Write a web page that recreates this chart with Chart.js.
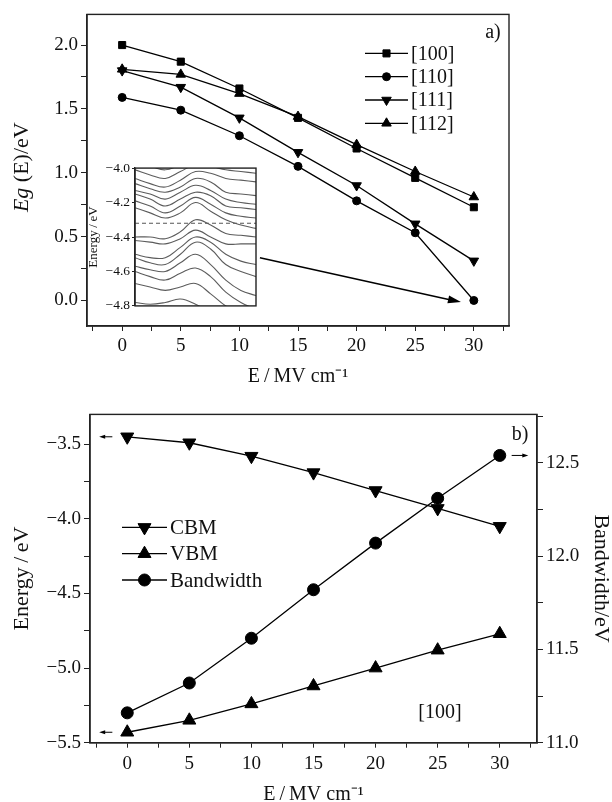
<!DOCTYPE html>
<html>
<head>
<meta charset="utf-8">
<script src="https://cdn.jsdelivr.net/npm/chart.js"></script>
<style>
  html, body { margin: 0; padding: 0; background: #fff; overflow: hidden; }
  #wrap { position: relative; width: 612px; height: 802px; }
  canvas { position: absolute; }
  #gapChart { left: 0; top: 0; }
  #insetChart { left: 84px; top: 158px; }
  #edgeChart { left: 0; top: 400px; }
</style>
</head>
<body>
<div id="wrap">
  <canvas id="gapChart" width="612" height="400"></canvas>
  <canvas id="insetChart" width="176" height="158"></canvas>
  <canvas id="edgeChart" width="612" height="410"></canvas>
</div>
<script>
const SERIF = "'Liberation Serif', 'Times New Roman', serif";

// applied field, MV/cm
const field = [0, 5, 10, 15, 20, 25, 30];

// a) band gap vs field for each direction (eV)
const gap100 = [2.00, 1.87, 1.66, 1.43, 1.19, 0.96, 0.73];
const gap110 = [1.59, 1.49, 1.29, 1.05, 0.78, 0.53, 0.00];
const gap111 = [1.80, 1.67, 1.43, 1.16, 0.90, 0.60, 0.31];
const gap112 = [1.81, 1.77, 1.62, 1.44, 1.22, 1.01, 0.81];

// b) band edges (eV, left axis) and bandwidth (eV, right axis) along [100]
const cbm = [-3.45, -3.49, -3.58, -3.69, -3.81, -3.93, -4.05];
const vbm = [-5.43, -5.35, -5.24, -5.12, -5.00, -4.88, -4.77];
const bandwidth = [11.16, 11.32, 11.56, 11.82, 12.07, 12.31, 12.54];

// inset: bands around the gap at 30 MV/cm, sampled along the k path
const kPath = [0, 1, 2, 3, 4, 5, 6, 7, 8];
const insetBands = [
  [-3.98, -3.99, -4.01, -3.98, -3.94, -3.95, -3.97, -3.98, -3.99],
  [-4.01, -4.04, -4.06, -4.02, -3.98, -3.99, -4.01, -4.02, -4.03],
  [-4.06, -4.09, -4.11, -4.07, -4.02, -4.03, -4.06, -4.07, -4.08],
  [-4.09, -4.12, -4.14, -4.11, -4.06, -4.08, -4.14, -4.15, -4.16],
  [-4.13, -4.15, -4.18, -4.14, -4.10, -4.13, -4.18, -4.20, -4.21],
  [-4.15, -4.18, -4.22, -4.18, -4.14, -4.16, -4.22, -4.23, -4.24],
  [-4.19, -4.22, -4.26, -4.22, -4.17, -4.21, -4.26, -4.28, -4.29],
  [-4.23, -4.26, -4.29, -4.26, -4.20, -4.25, -4.30, -4.33, -4.35],
  [-4.40, -4.40, -4.41, -4.37, -4.30, -4.33, -4.38, -4.39, -4.40],
  [-4.42, -4.43, -4.44, -4.41, -4.36, -4.40, -4.44, -4.44, -4.44],
  [-4.50, -4.52, -4.52, -4.46, -4.40, -4.43, -4.50, -4.54, -4.56],
  [-4.52, -4.55, -4.56, -4.50, -4.43, -4.47, -4.56, -4.60, -4.63],
  [-4.57, -4.59, -4.60, -4.55, -4.50, -4.56, -4.65, -4.71, -4.74],
  [-4.60, -4.63, -4.65, -4.61, -4.58, -4.63, -4.72, -4.78, -4.82],
  [-4.67, -4.69, -4.71, -4.69, -4.67, -4.73, -4.80, -4.84, -4.86],
  [-4.78, -4.79, -4.78, -4.76, -4.79, -4.84, -4.88, -4.89, -4.89]
];
const fermiLevel = -4.32;

// axis ticks: labelled majors plus unlabelled minors
const fieldTicks = [0, 5, 10, 15, 20, 25, 30];
const fieldMinor = [-2.5, 2.5, 7.5, 12.5, 17.5, 22.5, 27.5, 32.5];
const gapTicks = [0.0, 0.5, 1.0, 1.5, 2.0];
const gapMinor = [0.25, 0.75, 1.25, 1.75];
const energyTicks = [-5.5, -5.0, -4.5, -4.0, -3.5];
const energyMinor = [-5.25, -4.75, -4.25, -3.75];
const widthTicks = [11.0, 11.5, 12.0, 12.5];
const widthMinor = [11.25, 11.75, 12.25, 12.75];
const insetTicks = [-4.8, -4.6, -4.4, -4.2, -4.0];

// annotation arrows [x1, y1, x2, y2] in data units, head at the second point
const insetArrow = [11.75, 0.334, 28.9, -0.013];
const cbmArrow = [-1.2, cbm[0], -2.26, cbm[0]];
const vbmArrow = [-1.2, vbm[0], -2.26, vbm[0]];
const widthArrow = [30.96, bandwidth[6], 32.3, bandwidth[6]];

Chart.defaults.font.family = SERIF;
Chart.defaults.color = '#111';

const fmt = v => v.toFixed(1).replace('-', '\u2212');
const fmtInt = v => String(v);

function axis(position, min, max, major, minor, label, size, extra) {
  extra = extra || {};
  return {
    type: 'linear', position, min, max,
    afterBuildTicks: s => {
      s.ticks = major.concat(minor)
        .filter(v => v >= min - 1e-9 && v <= max + 1e-9)
        .sort((a, b) => a - b)
        .map(v => ({ value: v }));
    },
    afterFit: s => {
      if (size.width) s.width = size.width;
      if (size.height) s.height = size.height;
    },
    grid: { drawOnChartArea: false, drawTicks: true, tickLength: extra.tickLength || 5, color: '#222', lineWidth: 1 },
    border: { display: true, color: '#222', width: 1.4 },
    ticks: {
      autoSkip: false, maxRotation: 0, minRotation: 0,
      padding: extra.padding || 3,
      font: { size: extra.fontSize || 19 },
      color: '#111',
      callback: v => major.some(m => Math.abs(m - v) < 1e-6) ? label(v) : ''
    },
    title: extra.title || { display: false }
  };
}

function series(label, values, style, rotation, radius, yAxisID) {
  return {
    label,
    data: field.map((x, i) => ({ x, y: values[i] })),
    yAxisID: yAxisID || 'y',
    borderColor: '#000', backgroundColor: '#000', borderWidth: 1.3,
    pointStyle: style, pointRotation: rotation,
    pointRadius: radius, pointBorderWidth: 1,
    pointBackgroundColor: '#000', pointBorderColor: '#000'
  };
}

function arrow(ctx, x1, y1, x2, y2, head, width) {
  const a = Math.atan2(y2 - y1, x2 - x1);
  const c = Math.cos(a), s = Math.sin(a);
  ctx.beginPath();
  ctx.moveTo(x1, y1);
  ctx.lineTo(x2 - head * c * 0.7, y2 - head * s * 0.7);
  ctx.stroke();
  ctx.beginPath();
  ctx.moveTo(x2, y2);
  ctx.lineTo(x2 - head * c + width / 2 * s, y2 - head * s - width / 2 * c);
  ctx.lineTo(x2 - head * c - width / 2 * s, y2 - head * s + width / 2 * c);
  ctx.closePath();
  ctx.fill();
}

function dataArrow(chart, a, yId, head, width) {
  const sx = chart.scales.x, sy = chart.scales[yId];
  arrow(chart.ctx, sx.getPixelForValue(a[0]), sy.getPixelForValue(a[1]),
    sx.getPixelForValue(a[2]), sy.getPixelForValue(a[3]), head, width);
}

// legend rows: line with the series marker, then the label
function lineLegend(chart, x0, lineLen, y0, rowH, fontSize) {
  const ctx = chart.ctx;
  ctx.save();
  ctx.font = fontSize + 'px ' + SERIF;
  ctx.textBaseline = 'middle';
  ctx.textAlign = 'left';
  chart.data.datasets.forEach((ds, i) => {
    const y = y0 + i * rowH;
    ctx.strokeStyle = '#000';
    ctx.fillStyle = '#000';
    ctx.lineWidth = 1.3;
    ctx.beginPath();
    ctx.moveTo(x0, y);
    ctx.lineTo(x0 + lineLen, y);
    ctx.stroke();
    ctx.lineWidth = 1;
    Chart.helpers.drawPoint(ctx, {
      pointStyle: ds.pointStyle, rotation: ds.pointRotation,
      radius: ds.pointRadius, borderWidth: 1
    }, x0 + lineLen / 2, y);
    ctx.fillStyle = '#111';
    ctx.fillText(ds.label, x0 + lineLen + 3, y + 1);
  });
  ctx.restore();
}

function frame(chart) {
  const { ctx, chartArea: a } = chart;
  ctx.save();
  ctx.strokeStyle = '#222';
  ctx.lineWidth = 1.4;
  ctx.strokeRect(a.left, a.top, a.right - a.left, a.bottom - a.top);
  ctx.restore();
}

const panelA = {
  id: 'panelA',
  afterDraw(chart) {
    const { ctx, chartArea: a } = chart;
    frame(chart);
    lineLegend(chart, a.right - 144, 43, a.top + 39, 23.3, 20);
    ctx.save();
    ctx.fillStyle = '#111';
    ctx.font = '20px ' + SERIF;
    ctx.textAlign = 'center';
    ctx.textBaseline = 'middle';
    ctx.fillText('a)', a.right - 16, a.top + 18);
    // rotated y title with italic symbol
    const italic = 'italic 22px ' + SERIF, plain = '22px ' + SERIF;
    const t1 = 'Eg', t2 = ' (E)/eV';
    ctx.font = italic; const w1 = ctx.measureText(t1).width;
    ctx.font = plain; const w2 = ctx.measureText(t2).width;
    ctx.translate(22, (a.top + a.bottom) / 2 - 3);
    ctx.rotate(-Math.PI / 2);
    ctx.textAlign = 'left';
    ctx.font = italic; ctx.fillText(t1, -(w1 + w2) / 2, 0);
    ctx.font = plain; ctx.fillText(t2, -(w1 + w2) / 2 + w1, 0);
    ctx.restore();
    ctx.save();
    ctx.strokeStyle = '#000';
    ctx.fillStyle = '#000';
    ctx.lineWidth = 1.5;
    dataArrow(chart, insetArrow, 'y', 13, 8);
    ctx.restore();
  }
};

const panelB = {
  id: 'panelB',
  afterDraw(chart) {
    const { ctx, chartArea: a } = chart;
    frame(chart);
    lineLegend(chart, a.left + 32, 45, a.top + 113, 26.3, 21);
    ctx.save();
    ctx.fillStyle = '#111';
    ctx.font = '20px ' + SERIF;
    ctx.textAlign = 'center';
    ctx.textBaseline = 'middle';
    ctx.fillText('b)', a.right - 17, a.top + 20);
    ctx.fillText('[100]', a.left + 350, a.bottom - 30);
    ctx.strokeStyle = '#000';
    ctx.fillStyle = '#000';
    ctx.lineWidth = 1;
    dataArrow(chart, cbmArrow, 'y', 6, 4);
    dataArrow(chart, vbmArrow, 'y', 6, 4);
    dataArrow(chart, widthArrow, 'y1', 6, 4);
    ctx.restore();
  }
};

new Chart(document.getElementById('gapChart'), {
  type: 'line',
  data: {
    datasets: [
      series('[100]', gap100, 'rect', 0, 5),
      series('[110]', gap110, 'circle', 0, 4),
      series('[111]', gap111, 'triangle', 180, 5.5),
      series('[112]', gap112, 'triangle', 0, 5.5)
    ]
  },
  options: {
    responsive: false, animation: false,
    layout: { padding: { left: 0, top: 13, right: 103, bottom: 0 } },
    plugins: { legend: { display: false }, tooltip: { enabled: false } },
    scales: {
      x: axis('bottom', -3, 33, fieldTicks, fieldMinor, fmtInt, { height: 74 }, {
        padding: 4,
        title: { display: true, text: 'E\u2009/\u2009MV cm\u207B\u00B9', font: { size: 20 }, padding: { top: 0, bottom: 11 } }
      }),
      y: axis('left', -0.2, 2.24, gapTicks, gapMinor, fmt, { width: 87 }, { tickLength: 6 })
    }
  },
  plugins: [panelA]
});

const insetSets = insetBands.map(b => ({
  data: kPath.map((k, i) => ({ x: k, y: b[i] })),
  borderColor: '#5c5c5c', borderWidth: 1.1, pointRadius: 0, tension: 0.4
}));
insetSets.push({
  data: [{ x: kPath[0], y: fermiLevel }, { x: kPath[kPath.length - 1], y: fermiLevel }],
  borderColor: '#555', borderWidth: 1.1, borderDash: [4, 3], pointRadius: 0
});

new Chart(document.getElementById('insetChart'), {
  type: 'line',
  data: { datasets: insetSets },
  options: {
    responsive: false, animation: false,
    layout: { padding: { left: 0, top: 10, right: 4, bottom: 6 } },
    plugins: { legend: { display: false }, tooltip: { enabled: false } },
    scales: {
      x: { type: 'linear', min: 0, max: 8, display: false },
      y: axis('left', -4.8, -4.0, insetTicks, [], fmt, { width: 51 }, {
        tickLength: 3, padding: 2, fontSize: 13.5,
        title: { display: true, text: 'Energy\u2009/\u2009eV', font: { size: 13 }, padding: { top: 2, bottom: 0 } }
      })
    }
  },
  plugins: [{ id: 'insetFrame', afterDraw: frame }]
});

new Chart(document.getElementById('edgeChart'), {
  type: 'line',
  data: {
    datasets: [
      series('CBM', cbm, 'triangle', 180, 7.5),
      series('VBM', vbm, 'triangle', 0, 7.5),
      series('Bandwidth', bandwidth, 'circle', 0, 6, 'y1')
    ]
  },
  options: {
    responsive: false, animation: false,
    layout: { padding: { left: 0, top: 10, right: 0, bottom: 0 } },
    plugins: { legend: { display: false }, tooltip: { enabled: false } },
    scales: {
      x: axis('bottom', -3, 33, fieldTicks, fieldMinor, fmtInt, { height: 67.3 }, {
        padding: 5,
        title: { display: true, text: 'E\u2009/\u2009MV cm\u207B\u00B9', font: { size: 20 }, padding: { top: 0, bottom: 3 } }
      }),
      y: axis('left', -5.5, -3.3, energyTicks, energyMinor, fmt, { width: 90 }, {
        tickLength: 6,
        title: { display: true, text: 'Energy\u2009/\u2009eV', font: { size: 22, lineHeight: 1 }, padding: { top: 11, bottom: 0 } }
      }),
      y1: axis('right', 11.0, 12.76, widthTicks, widthMinor, fmt, { width: 75 }, {
        tickLength: 6,
        title: { display: true, text: 'Bandwidth/eV', font: { size: 22, lineHeight: 1 }, padding: { top: 0, bottom: 0 } }
      })
    }
  },
  plugins: [panelB]
});
</script>
</body>
</html>
